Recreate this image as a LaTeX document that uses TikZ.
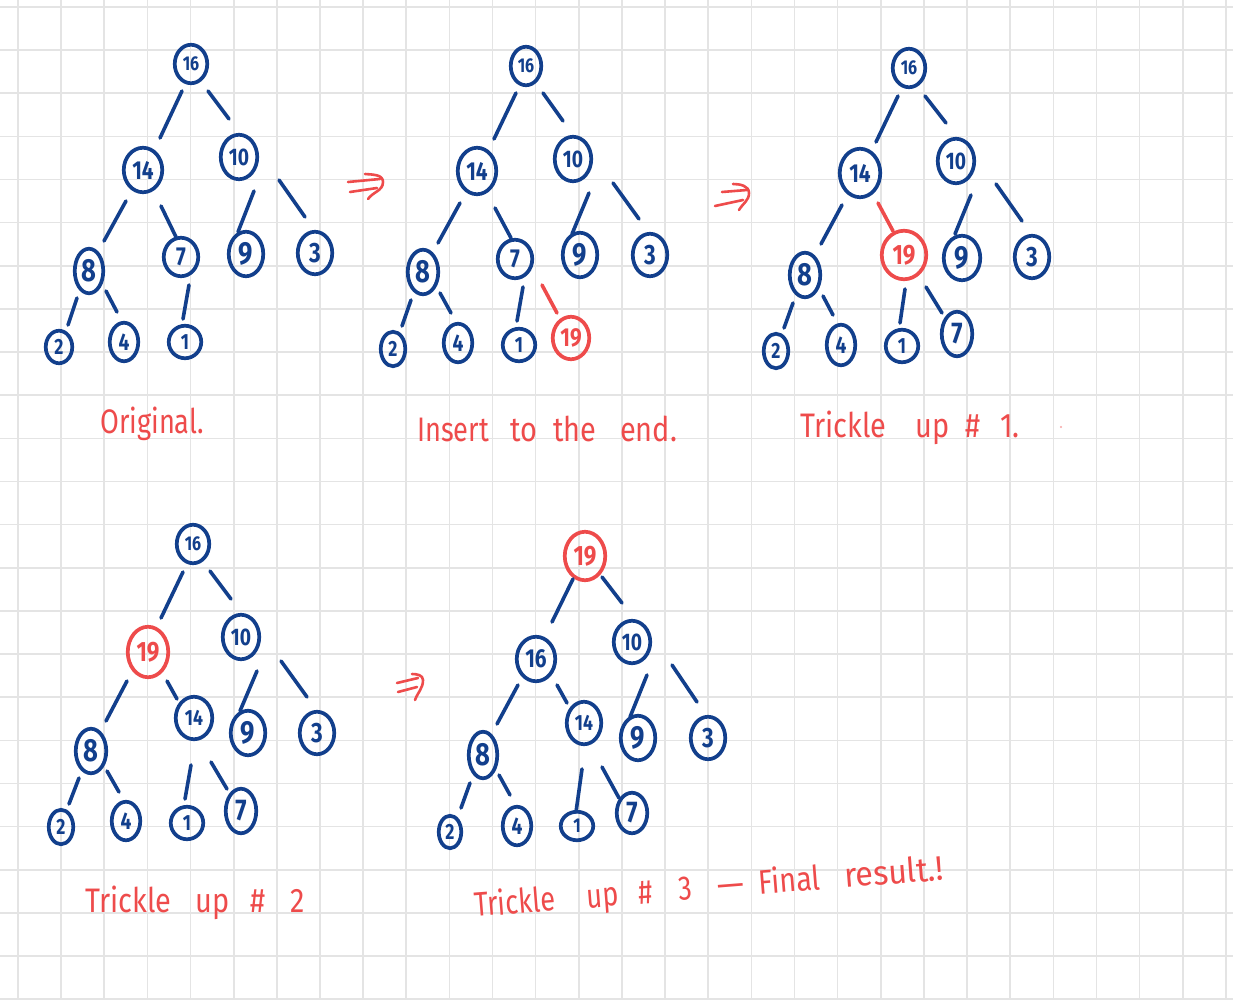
\documentclass[tikz,border=0pt]{standalone}
\usepackage{fontspec}
\setmainfont{Fira Sans}
\usepackage{graphicx}
\usetikzlibrary{shapes.geometric,calc}
\definecolor{ink}{HTML}{123F8C}
\definecolor{redink}{HTML}{EE4B4B}
\definecolor{gridc}{HTML}{E4E4E4}
\tikzset{
  hnode/.style={ellipse, draw=ink, line width=3.7pt, inner sep=0pt, text=ink},
  rnode/.style={hnode, draw=redink, text=redink},
  hedge/.style={draw=ink, line width=3.6pt, line cap=round},
  redge/.style={hedge, draw=redink},
  hlabel/.style={text=redink, font=\fontsize{34}{34}\selectfont, anchor=base west, inner sep=0pt},
  harrow/.style={draw=redink, line width=2.6pt, line cap=round, line join=round},
  gridline/.style={draw=gridc, line width=1.6pt},
}
% \hn[style]{name}{x}{y}{rx}{ry}{font size}{text}
\newcommand\hn[8][hnode]{\node[#1, minimum width={(2*#5-3.5)*1pt}, minimum height={(2*#6-3.5)*1pt}] (#2) at (#3,#4) {\fontsize{#7}{#7}\selectfont\bfseries\scalebox{0.8}[1]{#8}};}
% \he[style]{from}{offset}{to}{offset}
\newcommand\he[5][hedge]{\draw[#1] ($(#2)+(#3)$) -- ($(#4)+(#5)$);}
% \hw[xscale]{advance}{word}: a handwritten word with a fixed advance
\newcommand\hw[3][0.85]{\makebox[#2pt][l]{\scalebox{#1}[1]{#3}}}
\begin{document}
\begin{tikzpicture}[x=1pt,y=-1pt]
\useasboundingbox (0,0) rectangle (1233,1000);
\fill[white] (0,0) rectangle (1233,1000);
\foreach \i in {0,...,28} \draw[gridline] ({18+43.14*\i},0) -- ({18+43.14*\i},1000);
\foreach \j in {0,...,23} \draw[gridline] (0,{7+43.14*\j}) -- (1233,{7+43.14*\j});

% ---------- Tree 1: Original ----------
\hn{a16}{191}{64}{18}{21}{20}{16}
\hn{a14}{143}{170}{21}{24}{26}{14}
\hn{a10}{239}{157}{20}{24}{24}{10}
\hn{a8}{89}{271}{16}{24}{32}{8}
\hn{a7}{181}{257}{19}{21}{26}{7}
\hn{a9}{246}{254}{19}{24}{32}{9}
\hn{a3}{315}{253}{19}{23}{28}{3}
\hn{a2}{59}{347}{15}{18}{22}{2}
\hn{a4}{124}{342}{16}{21}{24}{4}
\hn{a1}{185}{342}{18}{18}{22}{1}
\he{a16}{-9,27}{a14}{17,-32}
\he{a16}{17,27}{a10}{-10,-38}
\he{a14}{-17,31}{a8}{15,-30}
\he{a14}{18,36}{a7}{-5,-20}
\he{a10}{15,34}{a9}{-8,-22}
\he{a10}{40,23}{a3}{-10,-36}
\he{a8}{-12,27}{a2}{9,-22}
\he{a8}{17,20}{a4}{-7,-30}
\he{a7}{8,28}{a1}{-2,-23}

% ---------- Tree 2: Insert ----------
\hn{b16}{526}{66}{17}{21}{20}{16}
\hn{b14}{477}{171}{21}{25}{26}{14}
\hn{b10}{573}{159}{20}{24}{24}{10}
\hn{b8}{423}{272}{17}{24}{32}{8}
\hn{b7}{515}{259}{19}{21}{26}{7}
\hn{b9}{580}{255}{19}{24}{32}{9}
\hn{b3}{650}{255}{19}{23}{28}{3}
\hn{b2}{393}{349}{14}{19}{22}{2}
\hn{b4}{458}{343}{16}{21}{24}{4}
\hn{b1}{519}{345}{18}{18}{22}{1}
\hn[rnode]{b19}{571}{338}{20}{23}{26}{19}
\he{b16}{-10,27}{b14}{17,-32}
\he{b16}{17,27}{b10}{-10,-38}
\he{b14}{-17,32}{b8}{15,-29}
\he{b14}{18,37}{b7}{-4,-21}
\he{b10}{16,34}{b9}{-8,-21}
\he{b10}{40,24}{b3}{-11,-36}
\he{b8}{-12,28}{b2}{9,-23}
\he{b8}{17,21}{b4}{-7,-30}
\he{b7}{8,28}{b1}{-2,-24}
\he[redge]{b7}{27,26}{b19}{-14,-25}

% ---------- Tree 3: Trickle up 1 ----------
\hn{c16}{909}{68}{18}{21}{20}{16}
\hn{c14}{860}{173}{22}{26}{26}{14}
\hn{c10}{956}{161}{20}{24}{24}{10}
\hn{c8}{805}{275}{17}{24}{32}{8}
\hn[rnode]{c19}{904}{255}{24}{26}{28}{19}
\hn{c9}{962}{258}{20}{24}{32}{9}
\hn{c3}{1032}{257}{19}{23}{28}{3}
\hn{c2}{776}{351}{14}{19}{22}{2}
\hn{c4}{841}{345}{16}{22}{24}{4}
\hn{c1}{902}{346}{18}{18}{22}{1}
\hn{c7}{957}{334}{17}{24}{30}{7}
\he{c16}{-11,28}{c14}{16,-31}
\he{c16}{16,28}{c10}{-10,-38}
\he{c14}{-18,32}{c8}{16,-31}
\he[redge]{c14}{18,30}{c19}{-11,-24}
\he{c10}{15,34}{c9}{-7,-24}
\he{c10}{40,23}{c3}{-10,-36}
\he{c8}{-12,28}{c2}{8,-23}
\he{c8}{18,21}{c4}{-8,-30}
\he{c19}{1,34}{c1}{-2,-23}
\he{c19}{22,32}{c7}{-15,-21}

% ---------- Tree 4: Trickle up 2 ----------
\hn{d16}{193}{544}{18}{21}{20}{16}
\hn[rnode]{d19}{148}{652}{22}{27}{28}{19}
\hn{d10}{241}{637}{20}{24}{24}{10}
\hn{d8}{91}{751}{17}{24}{32}{8}
\hn{d14}{194}{718}{20}{23}{22}{14}
\hn{d9}{248}{733}{19}{24}{32}{9}
\hn{d3}{317}{733}{19}{23}{28}{3}
\hn{d2}{61}{827}{14}{19}{22}{2}
\hn{d4}{126}{821}{16}{21}{24}{4}
\hn{d1}{187}{823}{18}{18}{22}{1}
\hn{d7}{241}{811}{17}{24}{30}{7}
\he{d16}{-10,28}{d19}{13,-34}
\he{d16}{17,27}{d10}{-10,-38}
\he{d19}{-21,29}{d8}{15,-30}
\he{d19}{19,29}{d14}{-17,-19}
\he{d10}{16,34}{d9}{-8,-22}
\he{d10}{40,24}{d3}{-10,-36}
\he{d8}{-12,27}{d2}{8,-23}
\he{d8}{16,20}{d4}{-7,-29}
\he{d14}{-3,47}{d1}{-2,-24}
\he{d14}{17,44}{d7}{-14,-22}

% ---------- Tree 5: Final ----------
\hn[rnode]{e19}{585}{556}{22}{26}{28}{19}
\hn{e16}{536}{659}{21}{24}{26}{16}
\hn{e10}{632}{642}{20}{23}{24}{10}
\hn{e8}{483}{755}{16}{25}{32}{8}
\hn{e14}{584}{723}{19}{23}{22}{14}
\hn{e9}{638}{738}{19}{24}{32}{9}
\hn{e3}{708}{738}{19}{23}{28}{3}
\hn{e2}{450}{832}{13}{18}{22}{2}
\hn{e4}{517}{826}{16}{21}{24}{4}
\hn{e1}{577}{826}{18}{16}{20}{1}
\hn{e7}{632}{813}{17}{22}{30}{7}
\he{e19}{-12,23}{e16}{16,-37}
\he{e19}{17,21}{e10}{-10,-39}
\he{e16}{-18,26}{e8}{14,-31}
\he{e16}{21,26}{e14}{-17,-20}
\he{e10}{15,33}{e9}{-8,-21}
\he{e10}{40,23}{e3}{-11,-36}
\he{e8}{-13,28}{e2}{11,-24}
\he{e8}{16,20}{e4}{-7,-31}
\he{e14}{-2,46}{e1}{-1,-14}
\he{e14}{18,44}{e7}{-13,-15}

% ---------- arrows ----------
\draw[harrow] (348,182) -- (380,179);
\draw[harrow] (350,192) -- (377,188);
\draw[harrow] (365,174) to[out=-5,in=90] (383,182) to[out=-90,in=55] (368,199);
\draw[harrow] (722,192) -- (747,190);
\draw[harrow] (715,206) -- (743,200);
\draw[harrow] (733,184) to[out=0,in=90] (749,193) to[out=-90,in=60] (739,210);
\draw[harrow] (397,683) -- (418,678);
\draw[harrow] (398,692) -- (417,687);
\draw[harrow] (412,674) to[out=0,in=90] (423,680) to[out=-90,in=70] (415,700);

% ---------- labels ----------
\node[hlabel] (l1) at (100,433) {\scalebox{0.8}[1]{Original.}};
\node[hlabel] (l2) at (417,441) {\hw[0.8]{93}{Insert}\hw{43}{to}\hw{67}{the}\hw{60}{end.}};
\node[hlabel] (l3) at (800,437) {\hw{115}{Trickle}\hw{50}{up}\hw{35}{\#}\hw{22}{1.}};
\fill[redink!50] (1061,427) circle (1.2pt);
\node[hlabel] (l4) at (85,912) {\hw{110}{Trickle}\hw{55}{up}\hw{40}{\#}\hw{25}{2}};
\node[hlabel, rotate=4.5] (l5) at (475,917) {\hw[0.8]{113}{Trickle}\hw[0.8]{52}{up}\hw[0.8]{40}{\#}\hw[0.8]{38}{3}\hw[1.6]{42}{–}\hw[0.85]{86}{Final}\hw[0.95]{110}{result.!}};
\end{tikzpicture}
\end{document}
